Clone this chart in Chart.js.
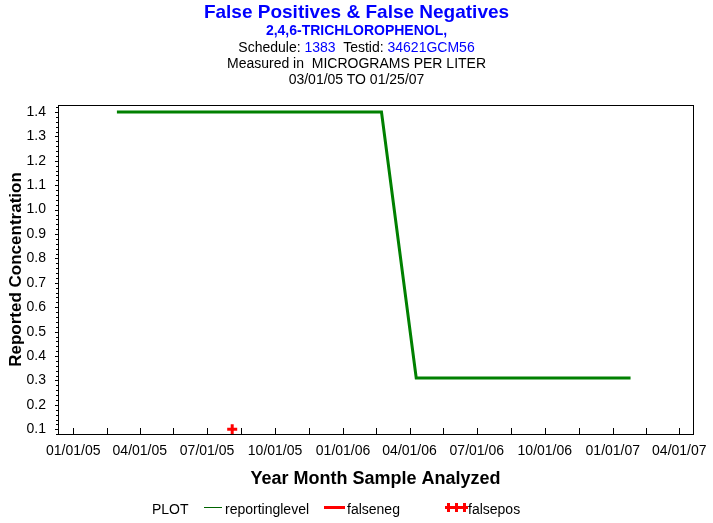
<!DOCTYPE html>
<html>
<head>
<meta charset="utf-8">
<script src="https://cdn.jsdelivr.net/npm/chart.js@4.4.1/dist/chart.umd.min.js"></script>
<style>
  body { margin: 0; background: #fff; overflow: hidden; }
  #wrap { position: relative; width: 713px; height: 523px; font-family: "Liberation Sans", Arial, sans-serif; }
  #box { position: absolute; left: 0; top: 0; width: 713px; height: 523px; }
  .line { position: absolute; left: 0; width: 713px; text-align: center; white-space: pre; line-height: 1; color: #000; }
  .blue { color: #0000ff; }
  .leg { position: absolute; font-size: 14px; line-height: 14px; white-space: pre; }
  .sw { position: absolute; }
</style>
</head>
<body>
<div id="wrap">
  <div id="box"><canvas id="myChart"></canvas></div>

  <div class="line blue" style="top:2px;font-size:19px;font-weight:bold;">False Positives &amp; False Negatives</div>
  <div class="line blue" style="top:23px;font-size:14px;font-weight:bold;">2,4,6-TRICHLOROPHENOL,</div>
  <div class="line" style="top:40px;font-size:14px;">Schedule: <span class="blue">1383</span>  Testid: <span class="blue">34621GCM56</span></div>
  <div class="line" style="top:56px;font-size:14px;">Measured in  MICROGRAMS PER LITER</div>
  <div class="line" style="top:72px;font-size:14px;">03/01/05 TO 01/25/07</div>

  <div class="leg" style="left:152px;top:502px;">PLOT</div>
  <div class="sw" style="left:204px;top:507px;width:18px;height:1px;background:#006400;"></div>
  <div class="leg" style="left:225px;top:502px;">reportinglevel</div>
  <div class="sw" style="left:324px;top:506px;width:21px;height:3px;background:#ff0000;"></div>
  <div class="leg" style="left:347px;top:502px;">falseneg</div>
  <div class="sw" style="left:445px;top:506px;width:23px;height:3px;background:#ff0000;"></div>
  <div class="sw" style="left:447px;top:503px;width:3px;height:9px;background:#ff0000;"></div>
  <div class="sw" style="left:455px;top:503px;width:3px;height:9px;background:#ff0000;"></div>
  <div class="sw" style="left:463px;top:503px;width:3px;height:9px;background:#ff0000;"></div>
  <div class="leg" style="left:468px;top:502px;">falsepos</div>
</div>

<script>
// sample dates (mm/dd/yy) and values
const reportDates = ['03/01/05', '02/22/06', '04/10/06', '01/25/07'];
const reportValues = [1.4, 1.4, 0.31, 0.31];

const falsenegDates = [];
const falsenegValues = [];

const falseposDates = ['08/04/05'];
const falseposValues = [0.1];

const xTickLabels = ['01/01/05', '04/01/05', '07/01/05', '10/01/05', '01/01/06',
                     '04/01/06', '07/01/06', '10/01/06', '01/01/07', '04/01/07'];
const yTickValues = [0.1, 0.2, 0.3, 0.4, 0.5, 0.6, 0.7, 0.8, 0.9, 1.0, 1.1, 1.2, 1.3, 1.4];

// days since 01/01/05
const base = Date.UTC(2005, 0, 1);
function dayNum(s) {
    const p = s.split('/');
    return (Date.UTC(2000 + Number(p[2]), Number(p[0]) - 1, Number(p[1])) - base) / 86400000;
}
function pts(dates, vals) {
    return dates.map((d, i) => ({x: dayNum(d), y: vals[i]}));
}

const majorDays = xTickLabels.map(dayNum);
const xTicks = [];
majorDays.forEach((d, i) => {
    xTicks.push(d);
    if (i < majorDays.length - 1) xTicks.push((d + majorDays[i + 1]) / 2);
});

Chart.defaults.font.family = "'Liberation Sans', Arial, sans-serif";
Chart.defaults.color = '#000';

// frame and tick marks
const frame = {
    id: 'frame',
    afterDraw(chart) {
        const ctx = chart.ctx;
        const a = chart.chartArea;
        const xs = chart.scales.x, ys = chart.scales.y;
        ctx.save();
        ctx.strokeStyle = '#000';
        ctx.lineWidth = 1;
        ctx.strokeRect(a.left + 0.5, a.top + 0.5, a.right - a.left, a.bottom - a.top);
        ctx.beginPath();
        xTicks.forEach(v => {
            const px = Math.round(xs.getPixelForValue(v)) + 0.5;
            ctx.moveTo(px, a.bottom);
            ctx.lineTo(px, a.bottom - 6);
        });
        yTickValues.forEach(v => {
            const py = Math.round(ys.getPixelForValue(v)) + 0.5;
            ctx.moveTo(a.left, py);
            ctx.lineTo(a.left - 3, py);
        });
        for (let v = 0.08; v < 1.43; v += 0.02) {
            const py = Math.round(ys.getPixelForValue(v)) + 0.5;
            ctx.moveTo(a.left, py);
            ctx.lineTo(a.left - 2, py);
        }
        ctx.stroke();
        ctx.restore();
    }
};

const config = {
    type: 'line',
    data: {
        datasets: [{
            label: 'reportinglevel',
            data: pts(reportDates, reportValues),
            borderColor: 'rgb(0, 128, 0)',
            borderWidth: 3,
            pointRadius: 0,
            tension: 0
        }, {
            label: 'falseneg',
            data: pts(falsenegDates, falsenegValues),
            borderColor: 'rgb(255, 0, 0)',
            borderWidth: 3,
            pointRadius: 0
        }, {
            label: 'falsepos',
            data: pts(falseposDates, falseposValues),
            showLine: false,
            pointStyle: 'cross',
            pointRadius: 5,
            pointBorderWidth: 3,
            borderColor: 'rgb(255, 0, 0)',
            backgroundColor: 'rgb(255, 0, 0)'
        }]
    },
    options: {
        responsive: true,
        maintainAspectRatio: false,
        animation: false,
        layout: {
            padding: {left: 0, right: 20, top: 105, bottom: 0}
        },
        scales: {
            x: {
                type: 'linear',
                min: -20.7,
                max: 838.5,
                afterBuildTicks: s => { s.ticks = xTicks.map(v => ({value: v})); },
                afterFit: s => { s.height = 89; },
                grid: {display: false},
                border: {display: false},
                ticks: {
                    autoSkip: false,
                    maxRotation: 0,
                    padding: 1,
                    font: {size: 14},
                    callback: v => {
                        const i = majorDays.indexOf(v);
                        return i >= 0 ? xTickLabels[i] : '';
                    }
                },
                title: {
                    display: true,
                    text: 'Year Month Sample Analyzed',
                    font: {size: 18, weight: 'bold'},
                    padding: {top: 0, bottom: 33}
                }
            },
            y: {
                min: 0.0807,
                max: 1.4287,
                afterBuildTicks: s => { s.ticks = yTickValues.map(v => ({value: v})); },
                afterFit: s => { s.width = 58; },
                grid: {display: false},
                border: {display: false},
                ticks: {
                    autoSkip: false,
                    padding: 4,
                    font: {size: 14},
                    callback: v => v.toFixed(1)
                },
                title: {
                    display: true,
                    text: 'Reported Concentration',
                    font: {size: 17, weight: 'bold'},
                    padding: {top: 6, bottom: 0}
                }
            }
        },
        plugins: {
            legend: {display: false},
            title: {display: false},
            tooltip: {enabled: false}
        }
    },
    plugins: [frame]
};

var myChart = new Chart(document.getElementById('myChart'), config);
</script>
</body>
</html>
